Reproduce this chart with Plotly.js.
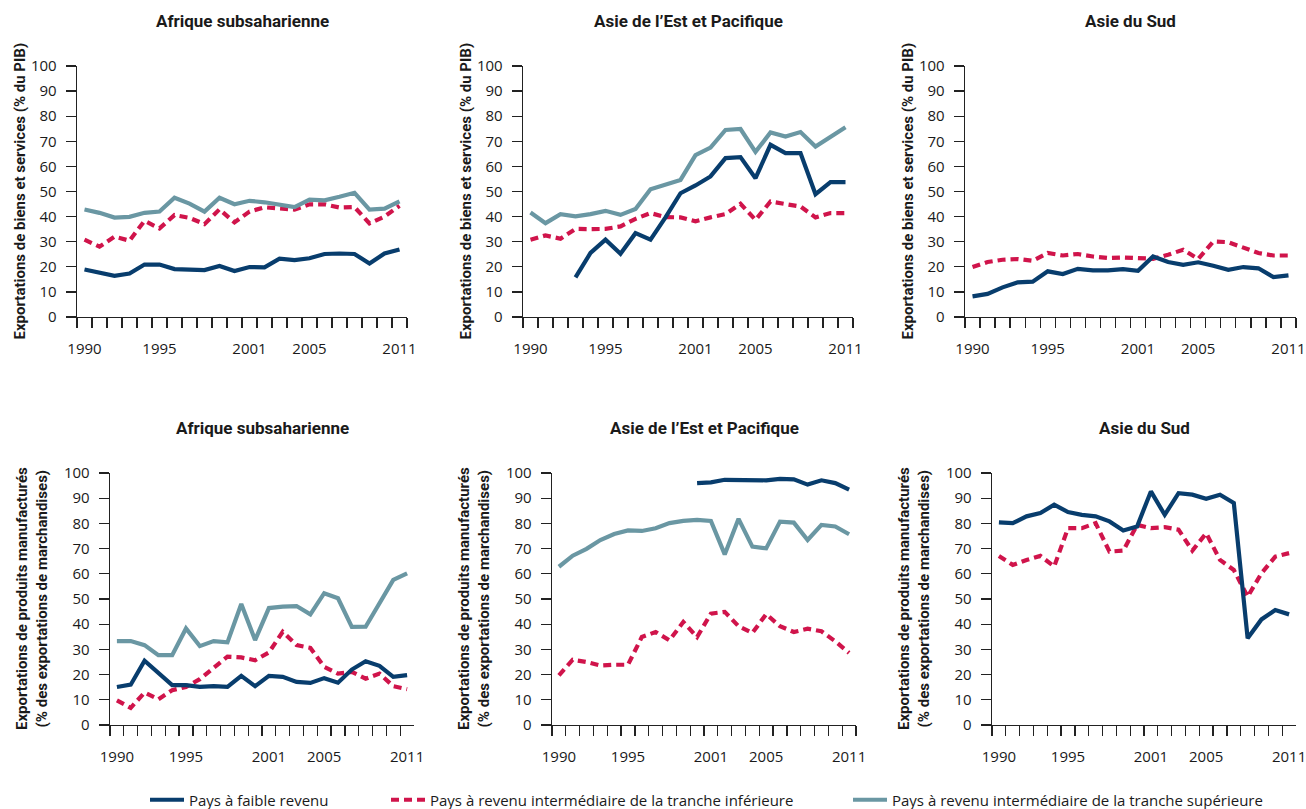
<!DOCTYPE html>
<html>
<head>
<meta charset="utf-8">
<script src="https://cdn.plot.ly/plotly-3.0.1.min.js"></script>
<style>html,body{margin:0;padding:0;background:#fff;}#chart{width:1306px;height:809px;}</style>
</head>
<body>
<div id="chart"></div>
<script>
// ---------- DATA ----------
const years = ["1990","1991","1992","1993","1994","1995","1996","1997","1998","1999","2000",
               "2001","2002","2003","2004","2005","2006","2007","2008","2009","2010","2011"];
const yearLabels = ["1990","","","","","1995","","","","","",
                    "2001","","","","2005","","","","","","2011"];

const panelTitles = ["Afrique subsaharienne","Asie de l\u2019Est et Pacifique","Asie du Sud",
                     "Afrique subsaharienne","Asie de l\u2019Est et Pacifique","Asie du Sud"];
const yTitleTop = "Exportations de biens et services (% du PIB)";
const yTitleBottom = "Exportations de produits manufactur\u00e9s<br>(% des exportations de marchandises)";

const seriesNames = ["Pays \u00e0 faible revenu",
                     "Pays \u00e0 revenu interm\u00e9diaire de la tranche inf\u00e9rieure",
                     "Pays \u00e0 revenu interm\u00e9diaire de la tranche sup\u00e9rieure"];

// Exports of goods and services (% of GDP)
const afrExpLow = [18.9,17.6,16.4,17.3,20.9,20.9,19.1,18.9,18.7,20.3,18.3,19.9,19.8,23.2,22.7,23.4,25.1,25.3,25.1,21.3,25.3,26.9];
const afrExpLMI = [30.8,28.0,32.0,30.4,38.3,35.3,40.6,39.5,37.0,42.9,37.7,42.0,43.7,43.3,42.8,44.9,44.9,43.6,43.8,37.3,40.0,44.3];
const afrExpUMI = [42.8,41.5,39.6,39.9,41.5,42.0,47.5,45.2,42.0,47.5,44.9,46.3,45.7,44.9,43.8,46.8,46.5,47.9,49.5,42.8,43.2,46.1];

const eapExpLow = [null,null,null,15.8,25.5,30.8,25.2,33.4,30.8,39.7,49.3,52.4,56.0,63.3,63.7,55.3,68.6,65.3,65.3,48.9,53.7,53.7];
const eapExpLMI = [30.8,32.5,31.2,35.1,35.0,35.1,36.1,39.1,41.4,39.8,39.7,38.1,39.7,41.0,45.1,38.7,46.0,45.1,44.0,39.7,41.4,41.4];
const eapExpUMI = [41.6,37.4,41.0,40.1,41.0,42.3,40.7,43.0,50.9,52.7,54.6,64.5,67.5,74.5,74.9,65.8,73.5,71.9,73.7,67.9,71.6,75.6];

const sasExpLow = [8.2,9.2,11.8,13.8,14.1,18.2,17.1,19.2,18.6,18.6,19.1,18.4,24.1,21.9,20.8,21.8,20.4,18.8,19.9,19.4,15.9,16.6];
const sasExpLMI = [19.9,21.9,22.8,23.1,22.4,25.5,24.5,25.1,24.1,23.5,23.7,23.5,23.2,24.8,26.8,23.1,30.1,29.8,27.5,25.5,24.5,24.5];

// Manufactured exports (% of merchandise exports)
const afrManLow = [15.1,16.0,25.5,20.4,15.8,15.8,15.1,15.4,15.1,19.5,15.4,19.5,19.1,17.1,16.7,18.6,16.8,22.0,25.3,23.5,19.1,19.8];
const afrManLMI = [9.8,6.8,12.9,10.2,13.8,15.1,18.2,22.4,27.1,26.8,25.7,28.8,37.0,31.7,30.6,23.1,20.4,21.1,18.4,20.4,15.4,14.2];
const afrManUMI = [33.3,33.3,31.7,27.7,27.7,38.3,31.3,33.3,32.8,48.0,33.7,46.4,47.0,47.2,43.9,52.3,50.3,38.9,39.0,48.3,57.6,60.2];

const eapManLow = [null,null,null,null,null,null,null,null,null,null,96.0,96.3,97.3,97.1,97.3,97.1,97.7,97.5,95.4,97.1,96.0,93.4];
const eapManLMI = [19.7,25.9,25.0,23.6,23.9,23.9,34.9,36.9,33.6,40.9,34.9,44.2,44.9,39.2,36.5,44.0,39.2,36.9,38.2,37.2,33.2,28.6];
const eapManUMI = [62.8,67.2,69.9,73.4,75.8,77.2,77.0,78.1,80.1,81.0,81.4,81.0,67.7,81.8,70.8,70.1,80.7,80.3,73.4,79.4,78.8,75.7];

const sasManLow = [80.4,80.1,82.8,84.1,87.4,84.5,83.4,82.8,80.8,77.2,78.8,92.7,83.4,92.0,91.4,89.8,91.4,88.1,34.4,41.9,45.6,43.9];
const sasManLMI = [67.1,63.5,65.5,67.1,62.9,78.1,78.1,80.1,68.8,69.2,79.4,78.1,78.5,77.5,69.2,76.1,65.5,61.5,50.9,60.2,66.8,68.2];

// ---------- LAYOUT / STYLE ----------
const W = 1306, H = 809;
const px = x => x / W;
const py = y => 1 - y / H;

const colLow = "#083d6d", colLMI = "#d0144b", colUMI = "#6a97a3";
const txt = "#1a1a1a", axc = "#222222";
const FONT = "Roboto, 'Open Sans', sans-serif";
const TICKFONT = "'Open Sans', Roboto, sans-serif";

// plot-area pixel boxes [left, right, top, bottom]
const boxes = [
  [77, 407, 66, 317], [523, 853, 66, 317], [965, 1296, 66, 317],
  [110, 414, 473, 725], [552, 856, 473, 725], [992, 1296, 473, 725]
];

const panels = [
  {low: afrExpLow, lmi: afrExpLMI, umi: afrExpUMI},
  {low: eapExpLow, lmi: eapExpLMI, umi: eapExpUMI},
  {low: sasExpLow, lmi: sasExpLMI, umi: null},
  {low: afrManLow, lmi: afrManLMI, umi: afrManUMI},
  {low: eapManLow, lmi: eapManLMI, umi: eapManUMI},
  {low: sasManLow, lmi: sasManLMI, umi: null}
];

const legFont = {family: TICKFONT, size: 15, color: txt};
const legBase = {xanchor: "left", yanchor: "middle", orientation: "h", bgcolor: "rgba(0,0,0,0)", font: legFont, itemwidth: 34};
const traces = [];
const layout = {
  width: W, height: H,
  margin: {l: 0, r: 0, t: 0, b: 0, autoexpand: false},
  paper_bgcolor: "#ffffff", plot_bgcolor: "#ffffff",
  font: {family: FONT, color: txt, size: 14},
  annotations: [],
  legend:  Object.assign({x: px(145), y: py(800)}, legBase),
  legend2: Object.assign({x: px(386), y: py(800)}, legBase),
  legend3: Object.assign({x: px(848), y: py(800)}, legBase)
};

panels.forEach((p, i) => {
  const n = i + 1;
  const xa = n === 1 ? "x" : "x" + n;
  const ya = n === 1 ? "y" : "y" + n;
  const b = boxes[i];
  const first = i === 0;

  traces.push({x: years, y: p.lmi, xaxis: xa, yaxis: ya, type: "scatter", mode: "lines",
    name: seriesNames[1], legend: "legend2", showlegend: first, hoverinfo: "skip",
    line: {color: colLMI, width: 4.2, dash: "8px,5px"}});
  if (p.umi) traces.push({x: years, y: p.umi, xaxis: xa, yaxis: ya, type: "scatter", mode: "lines",
    name: seriesNames[2], legend: "legend3", showlegend: first, hoverinfo: "skip",
    line: {color: colUMI, width: 4.2}});
  traces.push({x: years, y: p.low, xaxis: xa, yaxis: ya, type: "scatter", mode: "lines",
    name: seriesNames[0], legend: "legend", showlegend: first, hoverinfo: "skip",
    line: {color: colLow, width: 4.2}});

  layout["xaxis" + (n === 1 ? "" : n)] = {
    domain: [px(b[0]), px(b[1])], anchor: ya,
    type: "category", range: [-0.5, 21.5],
    tickmode: "array", tickvals: years, ticktext: yearLabels, tickson: "boundaries",
    tickangle: 0, automargin: false,
    ticks: "outside", ticklen: 10, tickwidth: 1.3, tickcolor: axc,
    showline: true, linecolor: axc, linewidth: 1.3,
    showgrid: false, zeroline: false, fixedrange: true,
    tickfont: {family: TICKFONT, size: 15, color: txt}, ticklabelstandoff: 18
  };
  layout["yaxis" + (n === 1 ? "" : n)] = {
    domain: [py(b[3]), py(b[2])], anchor: xa,
    range: [0, 100], tickmode: "linear", tick0: 0, dtick: 10,
    automargin: false,
    ticks: "outside", ticklen: 10, tickwidth: 1.3, tickcolor: axc,
    showline: true, linecolor: axc, linewidth: 1.3,
    showgrid: false, zeroline: false, fixedrange: true,
    tickfont: {family: TICKFONT, size: 15, color: txt}, ticklabelstandoff: 6
  };

  // panel title
  layout.annotations.push({
    text: panelTitles[i], xref: "paper", yref: "paper",
    x: px((b[0] + b[1]) / 2), y: py(i < 3 ? 21 : 428),
    xanchor: "center", yanchor: "middle", showarrow: false,
    font: {family: FONT, size: 17, color: txt, weight: 700}
  });
  // y-axis title
  const top = i < 3;
  layout.annotations.push({
    text: top ? yTitleTop : yTitleBottom, xref: "paper", yref: "paper",
    x: px(b[0] - (top ? 58 : 78)), y: py((b[2] + b[3]) / 2),
    xanchor: "center", yanchor: "middle", showarrow: false, textangle: -90,
    font: {family: FONT, size: 15, color: txt, weight: 700}
  });
});

Plotly.newPlot("chart", traces, layout, {displayModeBar: false, staticPlot: true});
</script>
</body>
</html>
